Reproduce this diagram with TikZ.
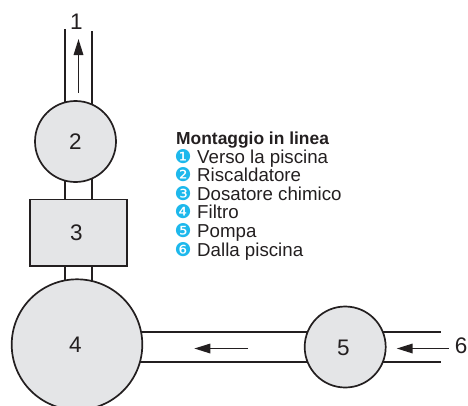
\documentclass[tikz,border=0pt]{standalone}
\usepackage{fontspec}
\setmainfont{Liberation Sans}
\newfontfamily\dejav{DejaVu Sans}
\definecolor{fillgray}{HTML}{E4E5E7}
\definecolor{inkc}{HTML}{231F20}
\definecolor{bulletc}{HTML}{1DB8EC}
\usetikzlibrary{arrows.meta}
\tikzset{
  x=1pt,y=-1pt,
  line/.style={draw=inkc,line width=1.7pt},
  pipe/.style={line},
  flow/.style={draw=inkc,line width=1.7pt,-{Triangle[length=16pt,width=9.5pt]}},
  unit/.style={line,fill=fillgray,circle,inner sep=0pt,text=inkc,font=\fontsize{22.5}{22.5}\selectfont},
  boxunit/.style={line,fill=fillgray,rectangle,inner sep=0pt,text=inkc,font=\fontsize{22.5}{22.5}\selectfont},
  lab/.style={text=inkc,font=\fontsize{22.5}{22.5}\selectfont,inner sep=0pt},
  legt/.style={text=inkc,anchor=base west,inner sep=0pt,font=\fontsize{18.7}{19}\selectfont},
  legb/.style={text=bulletc,anchor=base west,inner sep=0pt,font=\dejav\fontsize{19}{19}\selectfont},
}
\begin{document}
\begin{tikzpicture}
\useasboundingbox (0,0) rectangle (468,405);
\clip (0,0) rectangle (468,405);
% free pipe ends
\coordinate (p1l) at (65,29);
\coordinate (p1r) at (92,31);
\coordinate (a1s) at (78.5,92.5);
\coordinate (a1e) at (78.5,39);
\coordinate (p6t) at (441,332);
\coordinate (p6b) at (441,362);
\coordinate (a6s) at (449,348.5);
\coordinate (a6e) at (396.7,348.5);
\coordinate (a4s) at (248,348.5);
\coordinate (a4e) at (194.3,348.5);
\coordinate (j23la) at (65,141);
\coordinate (j23lb) at (65,232);
\coordinate (j23ra) at (92,141);
\coordinate (j23rb) at (92,232);
\coordinate (j34la) at (65,232);
\coordinate (j34lb) at (65,344);
\coordinate (j34ra) at (92,232);
\coordinate (j34rb) at (92,344);
\coordinate (j45ta) at (100,332);
\coordinate (j45tb) at (345,332);
\coordinate (j45ba) at (100,362);
\coordinate (j45bb) at (345,362);
\coordinate (j56ta) at (345,332);
\coordinate (j56ba) at (345,362);
% pipes
\draw[pipe] (p1l) -- (j23la) (p1r) -- (j23ra);
\draw[pipe] (j23la) -- (j23lb) (j23ra) -- (j23rb);
\draw[pipe] (j34la) -- (j34lb) (j34ra) -- (j34rb);
\draw[pipe] (j45ta) -- (j45tb) (j45ba) -- (j45bb);
\draw[pipe] (j56ta) -- (p6t) (j56ba) -- (p6b);
% units
\node[unit,minimum size=81pt] (u2) at (75.5,141.5) {};
\node[boxunit,minimum width=97.6pt,minimum height=66.5pt] (u3) at (78.5,232.75) {};
\node[unit,minimum size=130.6pt] (u4) at (77,344.6) {};
\node[unit,minimum size=81pt] (u5) at (345.2,347) {};
% numbers
\node[lab] (n1) at (76.5,21.5) {1};
\node[lab] (n2) at (75.5,142) {2};
\node[lab] (n3) at (76.5,233) {3};
\node[lab] (n4) at (75.5,345) {4};
\node[lab] (n5) at (343.5,348) {5};
\node[lab] (n6) at (461,346) {6};
% arrows
\draw[flow] (a1s) -- (a1e);
\draw[flow] (a4s) -- (a4e);
\draw[flow] (a6s) -- (a6e);
% legend
\node[legt,font=\bfseries\fontsize{17.4}{18}\selectfont] (lt) at (176,144.5) {Montaggio in linea};
\foreach \i/\g/\t/\y in {1/❶/Verso la piscina/163,2/❷/Riscaldatore/181.6,3/❸/Dosatore chimico/200.2,4/❹/Filtro/218.8,5/❺/Pompa/237.4,6/❻/Dalla piscina/256}{
  \node[legb] (b\i) at (174.5,\y) {\g};
  \node[legt] (t\i) at (197,\y) {\t};
}
\end{tikzpicture}
\end{document}
